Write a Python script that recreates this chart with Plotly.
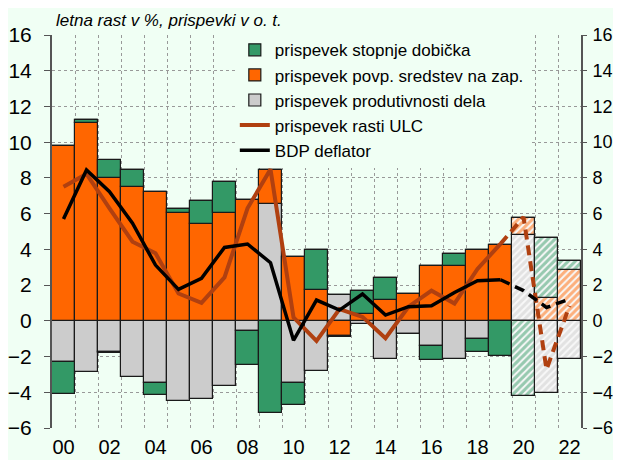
import plotly.graph_objects as go

years = list(range(2000, 2023))
tick_years = list(range(2000, 2023, 2))
tick_labels = ["00", "02", "04", "06", "08", "10", "12", "14", "16", "18", "20", "22"]

# contributions (p.p.)
profit_pos = [0, 0.13, 0.97, 0.97, 0, 0.25, 1.32, 1.74, 0, 0, 0, 2.24, 0, 1.28, 1.24, 0, 0, 0.70, 0, 0, 0, 3.38, 0.52]
profit_neg = [-1.77, 0, -0.05, 0, -0.67, 0, 0, 0, -1.92, -5.17, -1.22, 0, -0.05, 0, 0, -0.05, -0.81, 0, -0.71, -1.97, -4.21, 0, 0]
comp_emp = [9.8, 11.1, 8.01, 7.47, 7.23, 6.01, 5.4, 6.01, 6.78, 1.92, 3.58, 1.70, -0.84, 0.37, 1.16, 1.48, 3.05, 3.05, 3.97, 4.27, 0.96, 1.25, 2.85]
productivity = [-2.33, -2.87, -1.73, -3.12, -3.47, -4.48, -4.39, -3.64, -0.56, 6.52, -3.50, -2.80, 1.46, -0.19, -2.15, -0.71, -1.40, -2.15, -1.03, 0, 4.81, -4.03, -2.12]
ulc = [7.5, 8.22, 6.3, 4.43, 3.78, 1.53, 1.01, 2.43, 6.3, 8.48, 0.19, -1.12, 0.66, 0.22, -0.97, 0.79, 1.69, 0.97, 2.90, 4.31, 5.81, -2.72, 0.84]
deflator = [5.70, 8.44, 7.23, 5.46, 3.12, 1.76, 2.38, 4.11, 4.30, 3.25, -1.09, 1.16, 0.60, 1.50, 0.32, 0.79, 0.84, 1.59, 2.25, 2.30, 1.69, 0.75, 1.22]
n_actual = 20  # 2000-2019 actual, 2020-2022 forecast

GREEN = "#339966"
ORANGE = "#FF6600"
GREY = "#CCCCCC"
BROWN = "#B04010"
BG = "#F0FFF4"
FONT = "Liberation Sans, Arial, sans-serif"
OUTLINE = dict(color="#1a1a1a", width=1.2)


def actual(vals):
    return [v if i < n_actual else None for i, v in enumerate(vals)]


def forecast(vals):
    return [v if i >= n_actual else None for i, v in enumerate(vals)]


fig = go.Figure()

bar_series = [
    ("prispevek produtivnosti dela", productivity, GREY, 3, True),
    ("prispevek povp. sredstev na zap.", comp_emp, ORANGE, 2, True),
    ("prispevek stopnje dobička", profit_pos, GREEN, 1, True),
    ("prispevek stopnje dobička", profit_neg, GREEN, 1, False),
]

for name, vals, color, rank, show in bar_series:
    fig.add_trace(go.Bar(x=years, y=actual(vals), name=name, legendrank=rank, showlegend=show,
                         marker=dict(color=color, line=OUTLINE)))

for name, vals, color, rank, show in bar_series:
    fig.add_trace(go.Bar(x=years, y=forecast(vals), name=name, showlegend=False,
                         marker=dict(color="white", line=OUTLINE,
                                     pattern=dict(shape="/", fgcolor=color, bgcolor="#F8F8F8",
                                                  fillmode="overlay", size=5, solidity=0.6))))

DASH = "10px,6px"
fig.add_trace(go.Scatter(x=years[:n_actual], y=ulc[:n_actual], mode="lines", name="prispevek rasti ULC",
                         line=dict(color=BROWN, width=4), legendrank=4))
fig.add_trace(go.Scatter(x=years[n_actual - 1:], y=ulc[n_actual - 1:], mode="lines", showlegend=False,
                         line=dict(color=BROWN, width=4, dash=DASH)))
fig.add_trace(go.Scatter(x=years[:n_actual], y=deflator[:n_actual], mode="lines", name="BDP deflator",
                         line=dict(color="black", width=3.5), legendrank=5))
fig.add_trace(go.Scatter(x=years[n_actual - 1:], y=deflator[n_actual - 1:], mode="lines", showlegend=False,
                         line=dict(color="black", width=3.5, dash=DASH)))

# right-axis mirror
fig.add_trace(go.Scatter(x=[years[0]], y=[0], yaxis="y2", mode="markers", marker=dict(opacity=0),
                         showlegend=False, hoverinfo="skip"))

fig.update_layout(
    width=605, height=452,
    margin=dict(l=44, r=32, t=27, b=32, autoexpand=False),
    paper_bgcolor=BG, plot_bgcolor=BG,
    barmode="relative", bargap=0,
    font=dict(family=FONT, size=20, color="black"),
    showlegend=True,
    legend=dict(x=0.3456, y=1.007, xanchor="left", yanchor="top", bgcolor=BG,
                font=dict(size=17), tracegroupgap=0, itemwidth=30, traceorder="normal"),
    xaxis=dict(range=[1999.5, 2022.5], tickvals=tick_years, ticktext=tick_labels,
               showgrid=False, zeroline=False, showline=False, ticks="", automargin=False,
               tickfont=dict(size=20), ticklabelstandoff=5, ticklabeloverflow="allow",
               minor=dict(tickvals=[y + 0.5 for y in years[:-1]], showgrid=True,
                          gridcolor="#999999", griddash="dot", gridwidth=1, ticks="")),
    yaxis=dict(range=[-6, 16], dtick=2, showgrid=True, gridcolor="#999999", griddash="dot",
               zeroline=True, zerolinecolor="black", zerolinewidth=1.5, automargin=False,
               showline=True, linecolor="#555555", linewidth=2, ticks="outside", ticklen=6,
               tickcolor="#555555", tickfont=dict(size=21), ticklabelstandoff=8,
               ticklabeloverflow="allow"),
    yaxis2=dict(range=[-6, 16], dtick=2, overlaying="y", side="right", showgrid=False,
                zeroline=False, showline=True, linecolor="#555555", linewidth=2, automargin=False,
                ticks="outside", ticklen=4, tickcolor="#555555", tickfont=dict(size=18),
                ticklabelstandoff=2, ticklabeloverflow="allow"),
    annotations=[dict(text="<i>letna rast v %, prispevki v o. t.</i>", xref="paper", yref="paper",
                      x=0.0, y=1.0, xanchor="left", yanchor="bottom", showarrow=False,
                      font=dict(size=17), xshift=2, yshift=3)],
)

fig.write_html("out.html")
